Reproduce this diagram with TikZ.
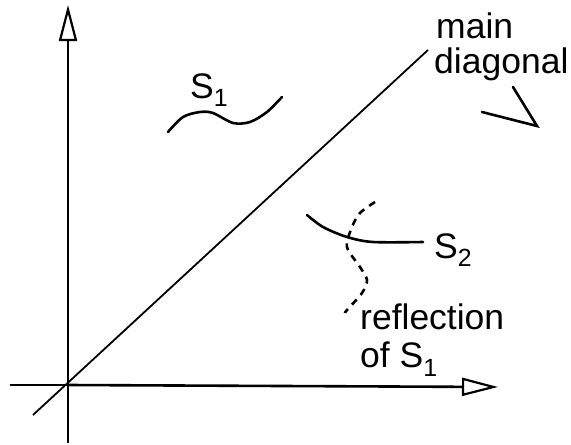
\documentclass[tikz,border=0pt]{standalone}
\usepackage{fontspec}
\setmainfont{Liberation Sans}
\usetikzlibrary{arrows.meta}
\tikzset{
  axis/.style={line width=2.6pt, -{Triangle[open, length=36pt, width=18pt, line width=2.2pt]}},
  axisplain/.style={line width=2.6pt},
  diag/.style={line width=1.8pt},
  curve/.style={line width=2.6pt, line cap=round},
  dcurve/.style={line width=2.6pt, dash pattern=on 7pt off 6pt},
  lbl/.style={inner sep=0pt, anchor=west, font=\fontsize{35.5}{40}\selectfont},
}
\begin{document}
\begin{tikzpicture}[x=1pt,y=-1pt]
\useasboundingbox (0,0) rectangle (571,445);
% coordinates
\coordinate (O) at (68,385);
\coordinate (ybot) at (68,443);
\coordinate (ytop) at (68,5);
\coordinate (xleft) at (10,385);
\coordinate (xright) at (498,387);
\coordinate (dlow) at (33,415);
\coordinate (dhigh) at (428,50);
% axes
\draw[axisplain] (O) -- (ybot);
\draw[axis] (O) -- (ytop);
\draw[axisplain] (O) -- (xleft);
\draw[axis] (O) -- (xright);
% main diagonal
\draw[diag] (dlow) -- (dhigh);
% labels
\node[lbl] (main) at (436,26) {main};
\node[lbl] (diagl) at (434,64) {diagonal};
\coordinate (p1) at (482,112);
\coordinate (p2) at (537,126);
\coordinate (p3) at (513,87);
\draw[curve] (p1) -- (p2) -- (p3);
% S1
\node[lbl] (s1) at (190,90) {S\textsubscript{1}};
\draw[curve] plot[smooth] coordinates {(168,132) (183,117) (200,112) (213,113) (233,123) (250,122) (267,112) (282,97)};
% S2
\draw[curve] plot[smooth] coordinates {(307,215) (323,227) (347,237) (373,242) (423,242)};
\node[lbl] (s2) at (434,250) {S\textsubscript{2}};
% reflection
\draw[dcurve] plot[smooth] coordinates {(375,202) (360,213) (352,227) (347,247) (360,267) (367,280) (362,293) (347,310) (345,313)};
\node[lbl] (refl) at (360,317) {reflection};
\node[lbl] (ofs) at (360,359) {of S\textsubscript{1}};
\end{tikzpicture}
\end{document}
